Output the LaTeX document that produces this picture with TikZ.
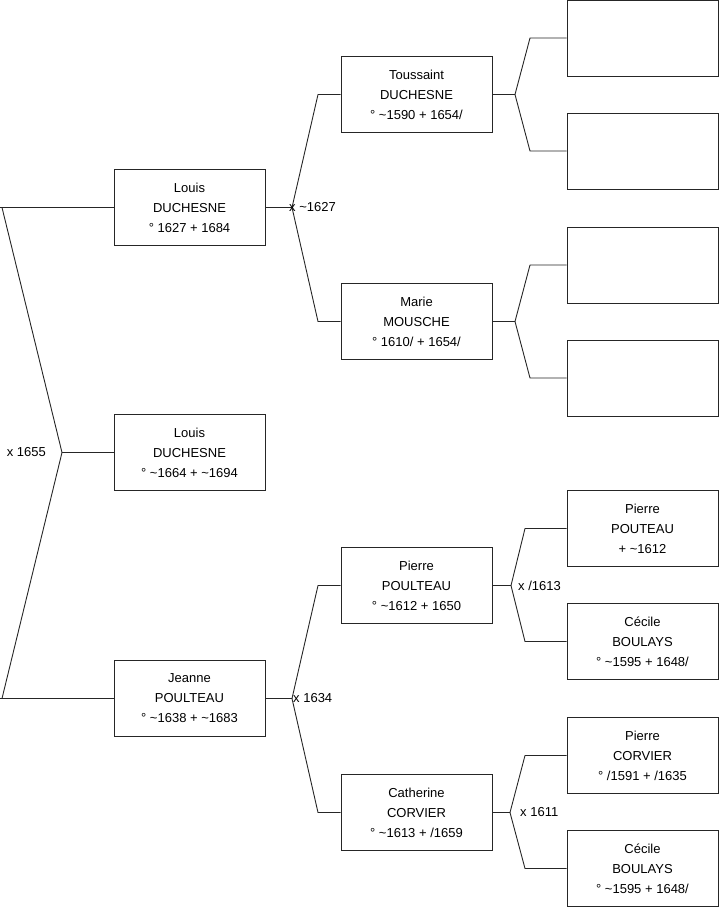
\documentclass[tikz,border=0pt]{standalone}
\usepackage{fontspec}
\setmainfont{Liberation Sans}
\newcommand{\tld}{\textasciitilde}
\begin{document}
\begin{tikzpicture}[x=1pt,y=-1pt,
  person/.style={draw=black!85, line width=1pt, fill=white, minimum width=151pt, minimum height=76pt,
    inner sep=0pt, align=center, font=\fontsize{13}{20}\selectfont},
  link/.style={draw=black!85, line width=0.9pt, line join=round},
  lbl/.style={font=\fontsize{13}{16}\selectfont, inner sep=0pt}]
\useasboundingbox (0,0) rectangle (719,908);
% generation 1
\node[person] (g1a) at (189.5,207.5) {Louis\\DUCHESNE\\° 1627 + 1684};
\node[person] (g1b) at (189.5,452.5) {Louis\\DUCHESNE\\° \tld1664 + \tld1694};
\node[person] (g1c) at (189.5,698.5) {Jeanne\\POULTEAU\\° \tld1638 + \tld1683};
% generation 2
\node[person] (g2a) at (416.5,94.5) {Toussaint\\DUCHESNE\\° \tld1590 + 1654/};
\node[person] (g2b) at (416.5,321.5) {Marie\\MOUSCHE\\° 1610/ + 1654/};
\node[person] (g2c) at (416.5,585.5) {Pierre\\POULTEAU\\° \tld1612 + 1650};
\node[person] (g2d) at (416.5,812.5) {Catherine\\CORVIER\\° \tld1613 + /1659};
% generation 3
\node[person] (g3a) at (642.5,38) {};
\node[person] (g3b) at (642.5,151) {};
\node[person] (g3c) at (642.5,265) {};
\node[person] (g3d) at (642.5,378) {};
\node[person] (g3e) at (642.5,528.5) {Pierre\\POUTEAU\\+ \tld1612};
\node[person] (g3f) at (642.5,641.5) {Cécile\\BOULAYS\\° \tld1595 + 1648/};
\node[person] (g3g) at (642.5,755.5) {Pierre\\CORVIER\\° /1591 + /1635};
\node[person] (g3h) at (642.5,868.5) {Cécile\\BOULAYS\\° \tld1595 + 1648/};
% fork coordinates
\coordinate (s0) at (0,207.5);
\coordinate (s0a) at (2,207.5);
\coordinate (v0) at (62,452.5);
\coordinate (s0c) at (2,698.5);
\coordinate (s0d) at (0,698.5);
\coordinate (v1) at (292,207.5);
\coordinate (b1a) at (318,94.5);
\coordinate (b1b) at (318,321.5);
\coordinate (v2) at (292,698.5);
\coordinate (b2a) at (318,585.5);
\coordinate (b2b) at (318,812.5);
\coordinate (v3) at (515,94.5);
\coordinate (b3a) at (530,38);
\coordinate (b3b) at (530,151);
\coordinate (v4) at (515,321.5);
\coordinate (b4a) at (530,265);
\coordinate (b4b) at (530,378);
\coordinate (v5) at (511,585.5);
\coordinate (b5a) at (525,528.5);
\coordinate (b5b) at (525,641.5);
\coordinate (v6) at (510,812.5);
\coordinate (b6a) at (525,755.5);
\coordinate (b6b) at (525,868.5);
% connectors
\draw[link] (g1a.west) -- (s0) ;
\draw[link] (s0a) -- (v0) -- (s0c);
\draw[link] (s0d) -- (g1c.west);
\draw[link] (v0) -- (g1b.west);
\draw[link] (g1a.east) -- (v1);
\draw[link] (g2a.west) -- (b1a) -- (v1) -- (b1b) -- (g2b.west);
\draw[link] (g1c.east) -- (v2);
\draw[link] (g2c.west) -- (b2a) -- (v2) -- (b2b) -- (g2d.west);
\draw[link] (g2a.east) -- (v3);
\draw[link] (g3a.west) -- (b3a) -- (v3) -- (b3b) -- (g3b.west);
\draw[link] (g2b.east) -- (v4);
\draw[link] (g3c.west) -- (b4a) -- (v4) -- (b4b) -- (g3d.west);
\draw[link] (g2c.east) -- (v5);
\draw[link] (g3e.west) -- (b5a) -- (v5) -- (b5b) -- (g3f.west);
\draw[link] (g2d.east) -- (v6);
\draw[link] (g3g.west) -- (b6a) -- (v6) -- (b6b) -- (g3h.west);
% marriage labels
\node[lbl, anchor=east] (m0) at (46,452.5) {x 1655};
\node[lbl, anchor=west] (m1) at (289,207.5) {x \tld1627};
\node[lbl, anchor=west] (m2) at (293,698.5) {x 1634};
\node[lbl, anchor=west] (m5) at (518,585.5) {x /1613};
\node[lbl, anchor=west] (m6) at (520,812.5) {x 1611};
\end{tikzpicture}
\end{document}
